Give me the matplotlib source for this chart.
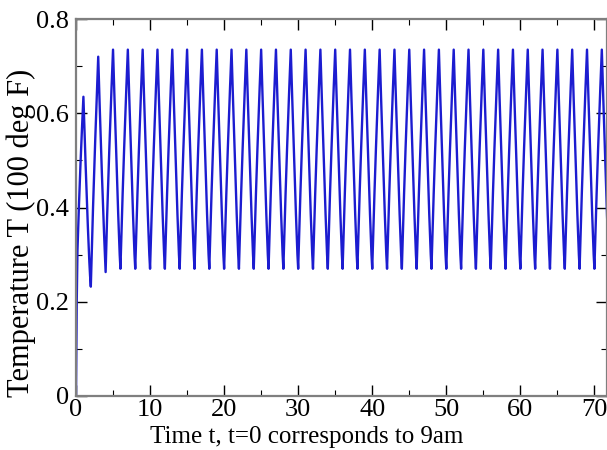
import numpy as np
import matplotlib
matplotlib.use("Agg")
import matplotlib.pyplot as plt

# ---- data ----
dt = 0.1
# start-up transient, t = 0.0 .. 4.0 (step 0.1)
transient = [0.0, 0.20, 0.31, 0.36, 0.405, 0.45, 0.49, 0.53, 0.565, 0.60, 0.635,
             0.585, 0.535, 0.49, 0.445, 0.40, 0.36, 0.32, 0.285, 0.255, 0.232,
             0.29, 0.345, 0.40, 0.45, 0.50, 0.545, 0.59, 0.635, 0.68, 0.72,
             0.665, 0.615, 0.565, 0.52, 0.47, 0.425, 0.38, 0.34, 0.30, 0.263]
# one steady daily cycle (t offsets 0.1 .. 2.0 after a trough)
steady_cycle = [0.325, 0.38, 0.43, 0.48, 0.525, 0.57, 0.615, 0.655, 0.695, 0.735,
                0.68, 0.63, 0.58, 0.53, 0.48, 0.43, 0.385, 0.34, 0.30, 0.27]
n_cycles = 34

x_ticks = [0, 10, 20, 30, 40, 50, 60, 70]
y_ticks = [0, 0.2, 0.4, 0.6, 0.8]
y_ticklabels = ["0", "0.2", "0.4", "0.6", "0.8"]

temps = np.array(transient + steady_cycle * n_cycles)
times = np.arange(len(temps)) * dt

plt.rcParams['font.family'] = ['Liberation Serif', 'DejaVu Serif']

fig = plt.figure(figsize=(6.07, 4.5), dpi=100)
ax = fig.add_axes([76/607, 1 - 396/450, 1 - 76/607, (396 - 19)/450])

ax.plot(times, temps, color='#1c1cd0', lw=1.7)

ax.set_xlim(0, 71.7)
ax.set_ylim(0, 0.8)
ax.set_xticks(x_ticks)
ax.set_xticks(np.arange(5, 75, 10), minor=True)
ax.set_yticks(y_ticks)
ax.set_yticklabels(y_ticklabels)
ax.set_yticks([0.1, 0.3, 0.5, 0.7], minor=True)

ax.tick_params(which='both', direction='in', top=True, right=True,
               labelsize=19, color='black')
ax.tick_params(which='major', length=8, width=1.0, pad=2)
ax.tick_params(axis='y', which='major', pad=5)
ax.tick_params(which='minor', length=4, width=0.8)
for s in ax.spines.values():
    s.set_color('#7f7f7f')
    s.set_linewidth(1.6)

ax.set_xlabel('Time t, t=0 corresponds to 9am', fontsize=18)
ax.xaxis.set_label_coords((307 - 76) / 531, -(448 - 396) / 377)
ax.xaxis.label.set_va('bottom')
ax.set_ylabel('Temperature T (100 deg F)', fontsize=22)
ax.yaxis.set_label_coords(-(76 - 7) / 531, (396 - 233) / 377)
ax.yaxis.label.set_va('top')

fig.savefig('out.png', dpi=100)
